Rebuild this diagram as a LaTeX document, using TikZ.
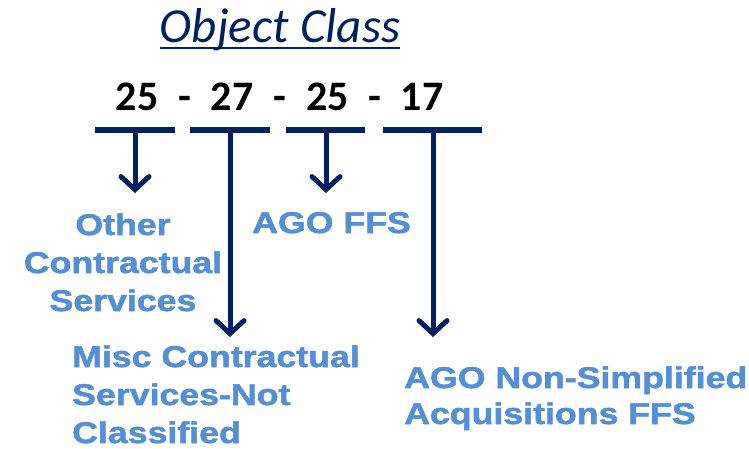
\documentclass[tikz,border=0pt]{standalone}
\usepackage{fontspec}
\setmainfont{Carlito}
\newfontfamily\labfont[FakeStretch=1.19,FakeBold=1.8]{Liberation Sans}
\usetikzlibrary{arrows.meta}
\definecolor{navy}{RGB}{0,32,96}
\definecolor{lblue}{RGB}{85,142,213}
\tikzset{
  numtxt/.style={inner sep=0pt, anchor=base, font=\fontsize{42}{42}\selectfont\bfseries, text=black},
  barline/.style={draw=navy, line width=6pt},
  arr/.style={draw=navy, line width=5pt, -{Straight Barb[length=13pt,width=28pt,line cap=round]}},
  lab/.style={inner sep=0pt, text=lblue, font=\labfont\fontsize{30}{38}\selectfont\bfseries},
}
\begin{document}
\begin{tikzpicture}[x=1pt,y=-1pt]
\useasboundingbox (0,0) rectangle (749,448);
\node[inner sep=0pt, anchor=base, text=navy, font=\fontsize{49}{49}\selectfont\itshape] (title) at (280,42) {Object Class};
\draw[navy, line width=2.5pt] ([yshift=-6pt]title.base west) -- ([yshift=-6pt]title.base east);

\node[numtxt] (n1) at (137,110) {25};
\node[numtxt] (d1) at (185,110) {-};
\node[numtxt] (n2) at (232,110) {27};
\node[numtxt] (d2) at (280,110) {-};
\node[numtxt] (n3) at (327.5,110) {25};
\node[numtxt] (d3) at (375,110) {-};
\node[numtxt] (n4) at (422,110) {17};

\coordinate (b1l) at (95,130);  \coordinate (b1r) at (175,130); \coordinate (b1) at (135,130);
\coordinate (b2l) at (190,130); \coordinate (b2r) at (270,130); \coordinate (b2) at (230,130);
\coordinate (b3l) at (286,130); \coordinate (b3r) at (365,130); \coordinate (b3) at (326,130);
\coordinate (b4l) at (383,130); \coordinate (b4r) at (482,130); \coordinate (b4) at (433,130);
\draw[barline] (b1l) -- (b1r);
\draw[barline] (b2l) -- (b2r);
\draw[barline] (b3l) -- (b3r);
\draw[barline] (b4l) -- (b4r);

\coordinate (t1) at (135,193);
\coordinate (t2) at (230,337);
\coordinate (t3) at (326,193);
\coordinate (t4) at (433,337);
\draw[arr] (b1) -- (t1);
\draw[arr] (b2) -- (t2);
\draw[arr] (b3) -- (t3);
\draw[arr] (b4) -- (t4);

\node[lab, anchor=base, align=center] (l1) at (123,311) {Other\\Contractual\\Services};
\node[lab, anchor=base west] (l3) at (252,233) {AGO FFS};
\node[lab, anchor=base west, align=left] (l2) at (72,443) {Misc Contractual\\Services-Not\\Classified};
\node[lab, anchor=base west, align=left, font=\labfont\fontsize{30}{36}\selectfont\bfseries] (l4) at (404,424) {AGO Non-Simplified\\Acquisitions FFS};
\end{tikzpicture}
\end{document}
